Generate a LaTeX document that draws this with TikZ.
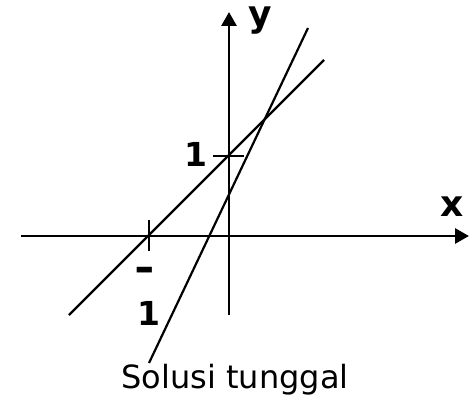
\documentclass[tikz,border=0pt]{standalone}
\usepackage{fontspec}
\setmainfont{DejaVu Sans}
\usetikzlibrary{arrows.meta}
\begin{document}
\begin{tikzpicture}[x=1pt,y=-1pt,
  axis/.style={line width=2.8pt,-{Triangle[length=14pt,width=15pt]}},
  graphline/.style={line width=2.2pt},
  tick/.style={line width=2.8pt},
  lbl/.style={inner sep=0pt,anchor=base,font=\fontsize{33}{33}\selectfont\bfseries},
  letter/.style={inner sep=0pt,anchor=base,font=\fontsize{36}{36}\selectfont\bfseries},
  caption/.style={inner sep=0pt,anchor=base,font=\fontsize{32}{32}\selectfont}]
\useasboundingbox (0,0) rectangle (471,398);
% axes
\coordinate (xl) at (21,236);
\coordinate (xr) at (469,236);
\coordinate (yb) at (229,315);
\coordinate (yt) at (229,12);
\draw[axis] (xl) -- (xr);
\draw[axis] (yb) -- (yt);
% ticks
\coordinate (t1a) at (149,220);
\coordinate (t1b) at (149,251);
\coordinate (t2a) at (213,156);
\coordinate (t2b) at (244,156);
\draw[tick] (t1a) -- (t1b);
\draw[tick] (t2a) -- (t2b);
% lines
\coordinate (l1a) at (69,315);
\coordinate (l1b) at (324,60);
\coordinate (l2a) at (149,363);
\coordinate (l2b) at (308,28);
\draw[graphline] (l1a) -- (l1b);
\draw[graphline] (l2a) -- (l2b);
% labels
\node[letter] (ylab) at (260,27) {y};
\node[letter] (xlab) at (452,217) {x};
\node[lbl] (one) at (196,167) {1};
\node[lbl] (minus) at (145,281) {\scalebox{1.5}[1.2]{-}};
\node[lbl] (mone) at (149,325) {1};
\node[caption] (cap) at (235,388) {Solusi tunggal};
\end{tikzpicture}
\end{document}
